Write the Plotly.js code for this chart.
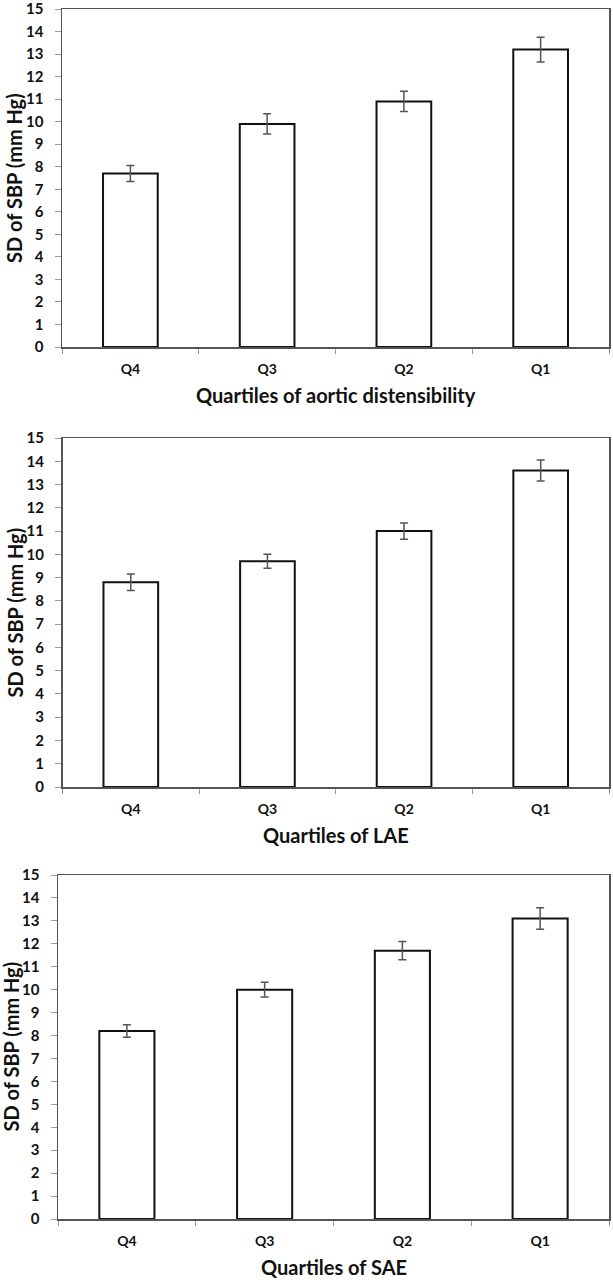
<!DOCTYPE html>
<html>
<head>
<meta charset="utf-8">
<script src="https://cdn.plot.ly/plotly-3.0.1.min.js"></script>
<style>
  body { margin: 0; background: #fff; }
  #graph { width: 613px; height: 1280px; }
</style>
</head>
<body>
<div id="graph"></div>
<script>
// Data
const quartiles = ['Q4', 'Q3', 'Q2', 'Q1'];

const distensibilitySD = [7.7, 9.9, 10.9, 13.2];
const distensibilityErr = [0.35, 0.45, 0.45, 0.55];

const laeSD = [8.8, 9.7, 11.0, 13.6];
const laeErr = [0.35, 0.3, 0.35, 0.45];

const saeSD = [8.2, 10.0, 11.7, 13.1];
const saeErr = [0.27, 0.32, 0.4, 0.47];

const xTitles = ['Quartiles of aortic distensibility', 'Quartiles of LAE', 'Quartiles of SAE'];
const yTitle = 'SD of SBP (mm Hg)';

// Page size in pixels, used to turn pixel positions into paper fractions
const W = 613;
const H = 1280;

// Plot boxes of each panel (pixels: left, right, top, bottom), plus title positions
const boxes = [
    { l: 62, r: 609, t: 9, b: 347, yTitleX: 14 },
    { l: 62.5, r: 609, t: 438, b: 787, yTitleX: 14 },
    { l: 58, r: 609, t: 875, b: 1219, yTitleX: 10.5 }
];

const fontFamily = 'Lato, "Open Sans", sans-serif';
const textColor = '#111';

// Build one bar trace per panel
function makeTrace(values, errors, n) {
    return {
        type: 'bar',
        x: quartiles,
        y: values,
        xaxis: n === 1 ? 'x' : 'x' + n,
        yaxis: n === 1 ? 'y' : 'y' + n,
        width: 0.4,
        marker: { color: '#fff', line: { color: '#111', width: 2 } },
        error_y: { type: 'data', array: errors, visible: true, color: '#555', thickness: 1.5, width: 4 },
        showlegend: false,
        hoverinfo: 'x+y'
    };
}

const data = [
    makeTrace(distensibilitySD, distensibilityErr, 1),
    makeTrace(laeSD, laeErr, 2),
    makeTrace(saeSD, saeErr, 3)
];

const layout = {
    width: W,
    height: H,
    margin: { l: 0, r: 0, t: 0, b: 0 },
    paper_bgcolor: '#fff',
    plot_bgcolor: '#fff',
    font: { family: fontFamily, color: textColor },
    annotations: []
};

// Axes for each panel
boxes.forEach((box, i) => {
    const n = i + 1;
    const xName = n === 1 ? 'xaxis' : 'xaxis' + n;
    const yName = n === 1 ? 'yaxis' : 'yaxis' + n;

    layout[xName] = {
        domain: [box.l / W, box.r / W],
        anchor: n === 1 ? 'y' : 'y' + n,
        type: 'category',
        range: [-0.5, 3.5],
        showgrid: false,
        zeroline: false,
        showline: true,
        mirror: true,
        linecolor: '#555',
        linewidth: 1.5,
        ticks: 'outside',
        tickson: 'boundaries',
        ticklen: 5,
        tickcolor: '#999',
        ticklabelstandoff: 9,
        tickfont: { size: 14, family: fontFamily, color: textColor, weight: 'bold' }
    };

    layout[yName] = {
        domain: [1 - box.b / H, 1 - box.t / H],
        anchor: n === 1 ? 'x' : 'x' + n,
        range: [0, 15],
        dtick: 1,
        showgrid: false,
        zeroline: false,
        showline: true,
        mirror: true,
        linecolor: '#555',
        linewidth: 1.5,
        ticks: 'outside',
        ticklen: 6,
        tickcolor: '#999',
        ticklabelstandoff: 8,
        ticklabeloverflow: 'allow',
        tickfont: { size: 15, family: fontFamily, color: textColor, weight: 'bold' }
    };

    // X title below the panel
    layout.annotations.push({
        text: '<b>' + xTitles[i] + '</b>',
        xref: 'paper', yref: 'paper',
        x: (box.l + box.r) / 2 / W,
        y: 1 - (box.b + 48) / H,
        showarrow: false,
        xanchor: 'center', yanchor: 'middle',
        font: { size: 20, family: fontFamily, color: textColor }
    });

    // Y title at the left of the panel
    layout.annotations.push({
        text: '<b>' + yTitle + '</b>',
        xref: 'paper', yref: 'paper',
        x: box.yTitleX / W,
        y: 1 - (box.t + box.b) / 2 / H,
        textangle: -90,
        showarrow: false,
        xanchor: 'center', yanchor: 'middle',
        font: { size: 20, family: fontFamily, color: textColor }
    });
});

Plotly.newPlot('graph', data, layout, { displayModeBar: false, staticPlot: true });
</script>
</body>
</html>
